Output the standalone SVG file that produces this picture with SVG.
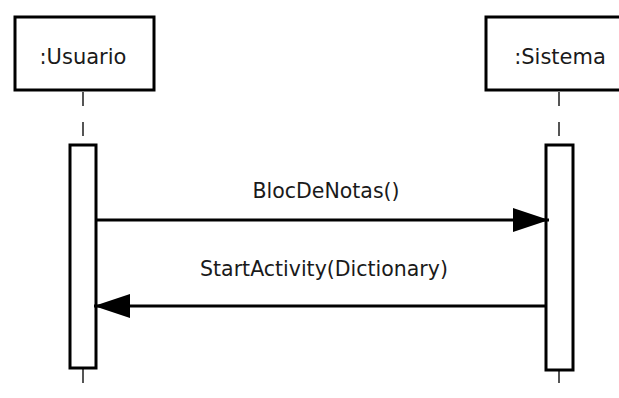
<svg xmlns="http://www.w3.org/2000/svg" width="619" height="398" viewBox="0 0 619 398">
  <style>
    .head { fill: #ffffff; stroke: #000000; stroke-width: 3; }
    .act { fill: #ffffff; stroke: #000000; stroke-width: 3; }
    .life { stroke: #555555; stroke-width: 2; stroke-dasharray: 14 16; fill: none; }
    .tail { stroke: #555555; stroke-width: 2; fill: none; }
    .msg { stroke: #000000; stroke-width: 3; fill: none; }
    .label { font-family: "DejaVu Sans", Verdana, sans-serif; font-size: 20.5px; fill: #1a1a1a; text-anchor: middle; }
    .head-label { font-family: "DejaVu Sans", Verdana, sans-serif; font-size: 21px; fill: #1a1a1a; text-anchor: middle; }
  </style>
  <defs>
    <marker id="arrowhead" markerUnits="userSpaceOnUse" markerWidth="38" markerHeight="26" refX="36" refY="12" orient="auto">
      <path d="M0,0 L36,12 L0,24 Z" fill="#000000"/>
    </marker>
  </defs>

  <rect width="619" height="398" fill="#ffffff"/>

  <!-- Lifeline: Usuario -->
  <g id="usuario">
    <line class="life" x1="83" y1="92" x2="83" y2="144"/>
    <line class="tail" x1="83" y1="368" x2="83" y2="383"/>
    <rect class="head" x="15" y="17" width="139" height="73"/>
    <text class="head-label" x="83" y="64">:Usuario</text>
    <rect class="act" x="70" y="145" width="26" height="223"/>
  </g>

  <!-- Lifeline: Sistema -->
  <g id="sistema">
    <line class="life" x1="559" y1="92" x2="559" y2="144"/>
    <line class="tail" x1="559" y1="370" x2="559" y2="383"/>
    <rect class="head" x="486" y="17" width="139" height="73"/>
    <text class="head-label" x="560" y="64">:Sistema</text>
    <rect class="act" x="546" y="145" width="27" height="225"/>
  </g>

  <!-- Messages -->
  <g id="connectors">
    <line class="msg" x1="97" y1="220" x2="549" y2="220" marker-end="url(#arrowhead)"/>
    <text class="label" x="326" y="198">BlocDeNotas()</text>
    <line class="msg" x1="545" y1="306" x2="94" y2="306" marker-end="url(#arrowhead)"/>
    <text class="label" x="324" y="276">StartActivity(Dictionary)</text>
  </g>
</svg>
